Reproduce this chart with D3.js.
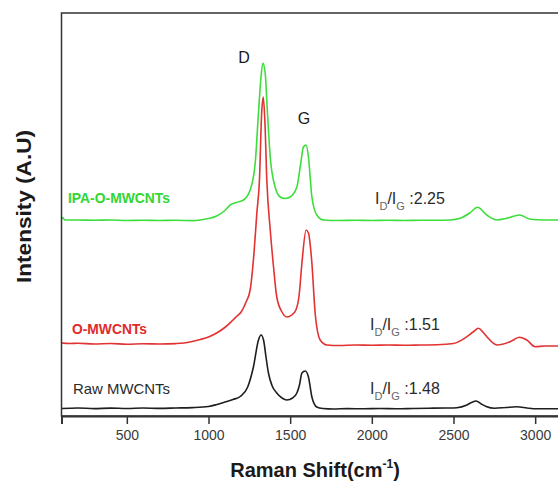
<!DOCTYPE html>
<html>
<head>
<meta charset="utf-8">
<style>
body { margin: 0; background: #fff; }
svg { display: block; font-family: "Liberation Sans", Arial, sans-serif; }
</style>
</head>
<body>
<svg width="558" height="481"></svg>
<script src="https://cdn.jsdelivr.net/npm/d3@7/dist/d3.min.js"></script>
<script>

// Raman spectra (shift in cm-1, intensity in a.u., offset stacked)
var rawShift = [100, 200, 300, 400, 500, 600, 700, 800, 900, 1000, 1051, 1100, 1150, 1194, 1240, 1275,
  1306, 1322, 1337, 1352, 1367, 1390, 1418, 1450, 1480, 1515, 1541, 1557, 1572, 1592, 1612, 1633, 1663,
  1700, 1765, 1850, 1950, 2050, 2150, 2250, 2350, 2450, 2520, 2582, 2610, 2639, 2670, 2700, 2752, 2820,
  2888, 2950, 2988, 3100, 3200]
var rawIntensity = [75, 80, 74, 79, 75, 80, 76, 80, 84, 95, 115, 140, 165, 195, 290, 490,
  760, 810, 760, 590, 430, 300, 230, 180, 160, 180, 230, 310, 430, 450, 390, 190, 90,
  75, 70, 74, 72, 75, 72, 75, 78, 80, 83, 110, 135, 150, 120, 95, 77, 85,
  93, 80, 72, 72, 72]

var oShift = [100, 150, 200, 300, 400, 500, 600, 700, 800, 850, 900, 950, 1000, 1050, 1100, 1150, 1175,
  1200, 1230, 1255, 1280, 1296, 1312, 1325, 1335, 1345, 1357, 1378, 1400, 1418, 1450, 1480, 1510, 1535,
  1555, 1572, 1598, 1612, 1633, 1653, 1684, 1725, 1800, 1900, 2000, 2100, 2200, 2300, 2400, 2500, 2582,
  2620, 2653, 2680, 2704, 2766, 2847, 2904, 2949, 3000, 3060, 3141, 3200]
var oIntensity = [730, 725, 727, 720, 725, 718, 722, 720, 724, 730, 745, 765, 790, 830, 885, 960, 1000,
  1040, 1140, 1260, 1660, 2030, 2360, 3010, 3190, 2960, 2360, 1860, 1460, 1190, 1040, 990, 1010, 1060,
  1210, 1530, 1860, 1830, 1530, 1030, 760, 710, 705, 710, 707, 710, 707, 710, 712, 725, 793,
  840, 877, 840, 793, 710, 743, 787, 760, 693, 700, 700, 700]

var ipaShift = [100, 108, 120, 200, 300, 400, 500, 600, 700, 800, 900, 950, 1000, 1050, 1100, 1133, 1170,
  1214, 1255, 1286, 1306, 1320, 1333, 1347, 1361, 1378, 1408, 1439, 1470, 1500, 1541, 1565, 1581, 1598,
  1612, 1633, 1663, 1704, 1800, 1900, 2000, 2100, 2200, 2300, 2400, 2480, 2541, 2600, 2647, 2704, 2766,
  2827, 2904, 2970, 3050, 3150, 3200]
var ipaIntensity = [1967, 1985, 1960, 1960, 1957, 1960, 1955, 1958, 1955, 1957, 1954, 1960, 1975, 2000, 2055, 2110, 2135,
  2160, 2260, 2530, 3030, 3360, 3530, 3430, 3030, 2590, 2290, 2190, 2175, 2190, 2290, 2530, 2690, 2710,
  2590, 2190, 2010, 1960, 1955, 1957, 1955, 1957, 1955, 1957, 1957, 1960, 1977, 2030, 2087, 2010, 1960,
  1977, 2010, 1967, 1960, 1960, 1960]

var seriesNames = ['Raw MWCNTs', 'O-MWCNTs', 'IPA-O-MWCNTs']
var ratioValues = ['1.48', '1.51', '2.25']
var xTicks = [500, 1000, 1500, 2000, 2500, 3000]
var peakNames = ['D', 'G']

var svg = d3.select('svg')

// note: "top" is taken by window.top, so use other names
var plotLeft = 61.5, plotTop = 13, plotBottom = 416
var x = d3.scaleLinear().domain([100, 3200]).range([plotLeft, plotLeft + 3100 * 0.16333])
var y = d3.scaleLinear().domain([0, 4030]).range([plotBottom, plotTop])

// spectra
var series = [
  { shift: rawShift, value: rawIntensity, color: '#1e1e1e' },
  { shift: oShift, value: oIntensity, color: '#e23232' },
  { shift: ipaShift, value: ipaIntensity, color: '#3ddd3d' }
]

var line = d3.line()
  .x(function (d) { return x(d[0]) })
  .y(function (d) { return y(d[1]) })
  .curve(d3.curveMonotoneX)

svg.append('g').selectAll('path')
  .data(series)
  .enter().append('path')
  .attr('d', function (s) { return line(d3.zip(s.shift, s.value)) })
  .attr('fill', 'none')
  .attr('stroke', function (s) { return s.color })
  .attr('stroke-width', 1.6)
  .attr('stroke-linejoin', 'round')

// frame
svg.append('rect')
  .attr('x', x(100)).attr('y', plotTop)
  .attr('width', x(3200) - x(100)).attr('height', plotBottom - plotTop)
  .attr('fill', 'none').attr('stroke', '#333').attr('stroke-width', 1.5)

// bottom axis
var xAxis = svg.append('g')
  .attr('transform', 'translate(0,' + plotBottom + ')')
  .call(d3.axisBottom(x).tickValues(xTicks).tickSize(8).tickPadding(6).tickFormat(d3.format('d')))
xAxis.select('.domain').attr('stroke', '#333').attr('stroke-width', 2)
xAxis.selectAll('.tick line').attr('stroke', '#333').attr('stroke-width', 1.5)
xAxis.selectAll('.tick text')
  .attr('fill', '#3a3a3a')
  .style('font-size', '14px')
  .style('font-family', '"Liberation Sans", Arial, sans-serif')

// axis titles
var xTitle = svg.append('text')
  .attr('x', 315).attr('y', 477)
  .attr('text-anchor', 'middle')
  .attr('font-weight', 'bold').attr('font-size', 20).attr('fill', '#1a1a1a')
xTitle.append('tspan').text('Raman Shift(cm')
xTitle.append('tspan').attr('font-size', 12).attr('dy', -9).text('-1')
xTitle.append('tspan').attr('dy', 9).text(')')

svg.append('text')
  .attr('transform', 'translate(31,206.5) rotate(-90)')
  .attr('text-anchor', 'middle')
  .attr('font-weight', 'bold').attr('font-size', 21).attr('fill', '#1a1a1a')
  .attr('textLength', 153).attr('lengthAdjust', 'spacingAndGlyphs')
  .text('Intensity (A.U)')

// peak labels
var peakPos = [[244, 63], [304, 124]]
svg.append('g').selectAll('text')
  .data(peakNames)
  .enter().append('text')
  .attr('x', function (d, i) { return peakPos[i][0] })
  .attr('y', function (d, i) { return peakPos[i][1] })
  .attr('text-anchor', 'middle')
  .attr('font-size', 16).attr('fill', '#1a1a1a')
  .text(function (d) { return d })

// series names
var nameStyle = [
  { x: 73, y: 394, w: 97, color: '#2a2a2a', weight: 'normal' },
  { x: 72, y: 334, w: 75, color: '#e22a2a', weight: 'bold' },
  { x: 68, y: 203, w: 102, color: '#33d633', weight: 'bold' }
]
svg.append('g').selectAll('text')
  .data(seriesNames)
  .enter().append('text')
  .attr('x', function (d, i) { return nameStyle[i].x })
  .attr('y', function (d, i) { return nameStyle[i].y })
  .attr('font-size', 15)
  .attr('font-weight', function (d, i) { return nameStyle[i].weight })
  .attr('fill', function (d, i) { return nameStyle[i].color })
  .attr('textLength', function (d, i) { return nameStyle[i].w })
  .attr('lengthAdjust', 'spacingAndGlyphs')
  .text(function (d) { return d })

// I_D/I_G ratios
var ratioPos = [[370, 393.5], [370, 330], [375, 204]]
ratioValues.forEach(function (v, i) {
  var t = svg.append('text')
    .attr('x', ratioPos[i][0]).attr('y', ratioPos[i][1])
    .attr('font-size', 16).attr('fill', '#2a2a2a')
  t.append('tspan').text('I')
  t.append('tspan').attr('font-size', 11).attr('dy', 6).attr('fill', '#666').text('D')
  t.append('tspan').attr('dy', -6).text('/I')
  t.append('tspan').attr('font-size', 11).attr('dy', 6).attr('fill', '#666').text('G')
  t.append('tspan').attr('dy', -6).text(' :' + v)
})

</script>
</body>
</html>
